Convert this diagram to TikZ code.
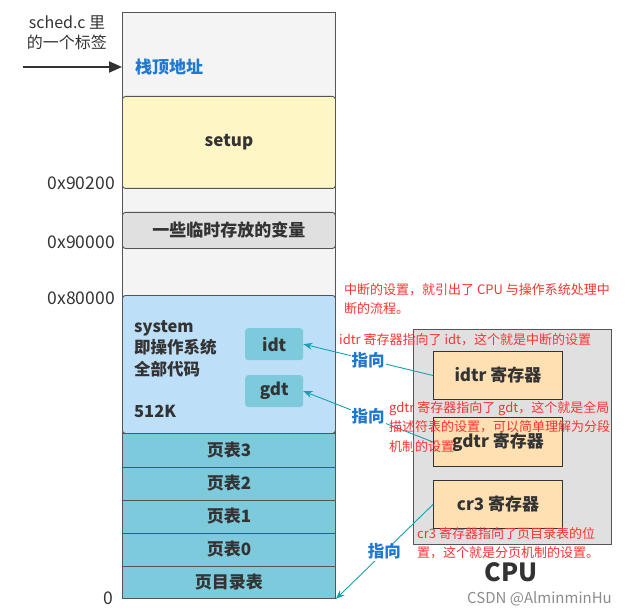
\documentclass[tikz,border=0pt]{standalone}
\usepackage{fontspec}
\setmainfont{Noto Sans CJK SC}
\usetikzlibrary{arrows.meta}
\definecolor{stackbg}{HTML}{F4F4F4}
\definecolor{setupc}{HTML}{FFF6C6}
\definecolor{tempc}{HTML}{E0E0E0}
\definecolor{sysc}{HTML}{BEDFF8}
\definecolor{ptc}{HTML}{7ECADD}
\definecolor{cpuc}{HTML}{E0E0E0}
\definecolor{regc}{HTML}{FFE0B2}
\definecolor{redc}{HTML}{FF3333}
\definecolor{bluec}{HTML}{1F78D1}
\definecolor{tealc}{HTML}{1A9FB3}
\definecolor{edgec}{HTML}{555555}
\definecolor{txtc}{HTML}{333333}
\tikzset{
  memblk/.style={draw=edgec, line width=0.9pt, rounded corners=3pt, font=\fontsize{17}{20}\selectfont\bfseries, text=txtc},
  ptrow/.style={draw=edgec, line width=0.9pt, fill=ptc, font=\fontsize{17}{20}\selectfont\bfseries, text=txtc},
  tabbox/.style={fill=ptc, rounded corners=3pt, font=\fontsize{17}{20}\selectfont\bfseries, text=txtc},
  regbox/.style={draw=txtc, line width=1pt, fill=regc, font=\fontsize{17}{20}\selectfont\bfseries, text=txtc},
  addr/.style={font=\fontsize{17.5}{20}\selectfont, text=txtc, anchor=east, inner sep=0pt},
  redtxt/.style={font=\fontsize{13}{19.5}\selectfont, text=redc, align=left, anchor=north west, inner sep=0pt},
  pointlbl/.style={font=\fontsize{16.5}{19}\selectfont\bfseries, text=bluec, fill=white, inner sep=1pt},
  tealarrow/.style={draw=tealc, line width=0.9pt, -{Stealth[length=9pt,width=7pt]}},
}
\begin{document}
\begin{tikzpicture}[x=1pt,y=-1pt]
\useasboundingbox (0,0) rectangle (627,615);
% stack column background
\node[draw=edgec, line width=0.9pt, fill=stackbg, minimum width=213pt, minimum height=586pt, anchor=north west, inner sep=0pt] (col) at (122,12) {};
% setup
\node[memblk, fill=setupc, minimum width=213pt, minimum height=92pt, anchor=north west, inner sep=0pt] (setup) at (122,96) {setup};
% temp vars
\node[memblk, fill=tempc, minimum width=213pt, minimum height=36pt, anchor=north west, inner sep=0pt] (temp) at (122,212) {一些临时存放的变量};
% system
\node[memblk, fill=sysc, minimum width=213pt, minimum height=138pt, anchor=north west, inner sep=0pt] (sys) at (122,295) {};
\node[font=\fontsize{16.5}{21.5}\selectfont\bfseries, text=txtc, align=left, anchor=north west, inner sep=0pt] (systxt) at (134,320) {system\\即操作系统\\全部代码\\[0.95\baselineskip]512K};
\node[tabbox, minimum width=58pt, minimum height=32pt, anchor=north west, inner sep=0pt] (idt) at (245,328) {idt};
\node[tabbox, minimum width=58pt, minimum height=32pt, anchor=north west, inner sep=0pt] (gdt) at (245,375) {gdt};
% page tables
\node[ptrow, minimum width=213pt, minimum height=33.5pt, anchor=north west, inner sep=0pt] (pt3) at (122,433) {页表3};
\node[ptrow, minimum width=213pt, minimum height=33pt, anchor=north west, inner sep=0pt] (pt2) at (122,466.5) {页表2};
\node[ptrow, minimum width=213pt, minimum height=33pt, anchor=north west, inner sep=0pt] (pt1) at (122,499.5) {页表1};
\node[ptrow, minimum width=213pt, minimum height=33pt, anchor=north west, inner sep=0pt] (pt0) at (122,532.5) {页表0};
\node[ptrow, minimum width=213pt, minimum height=32.5pt, anchor=north west, inner sep=0pt] (pdir) at (122,565.5) {页目录表};
% addresses
\node[addr] (a1) at (115,183) {0x90200};
\node[addr] (a2) at (115,242) {0x90000};
\node[addr] (a3) at (115,298) {0x80000};
\node[addr] (a4) at (113,598) {0};
% stack label
\node[font=\fontsize{16}{20}\selectfont, text=txtc, align=center, inner sep=0pt] (sched) at (67,33) {sched.c 里\\的一个标签};
\coordinate (sp) at (23,67);
\draw[line width=2pt, draw=txtc, -{Triangle[length=13pt,width=11pt]}] (sp) -- (col.west |- sp);
\node[font=\fontsize{17}{19}\selectfont\bfseries, text=bluec, anchor=west, inner sep=0pt] (top) at (135,67) {栈顶地址};
% CPU
\node[draw=edgec, line width=1pt, fill=cpuc, minimum width=198pt, minimum height=215pt, anchor=north west, inner sep=0pt] (cpu) at (413,329) {};
\node[regbox, minimum width=129pt, minimum height=48pt, anchor=north west, inner sep=0pt] (idtr) at (433,351) {idtr 寄存器};
\node[regbox, minimum width=129pt, minimum height=49pt, anchor=north west, inner sep=0pt] (gdtr) at (433,417) {gdtr 寄存器};
\node[regbox, minimum width=129pt, minimum height=48pt, anchor=north west, inner sep=0pt] (cr3) at (433,480) {cr3 寄存器};
\node[font=\fontsize{25}{28}\selectfont\bfseries, text=txtc, inner sep=0pt] (cputxt) at (511,572) {CPU};
% arrows
\draw[tealarrow] (idtr.west) -- node[pointlbl, pos=0.5] {指向} (idt.east);
\draw[tealarrow] (gdtr.west) -- node[pointlbl, pos=0.5] {指向} (gdt.east);
\draw[tealarrow] (cr3.west) -- node[pointlbl, pos=0.5] {指向} (pdir.south east);
% red notes
\node[redtxt] (n1) at (344,283) {中断的设置，就引出了 CPU 与操作系统处理中\\断的流程。};
\node[redtxt] (n2) at (339,333) {idtr 寄存器指向了 idt，这个就是中断的设置};
\node[redtxt] (n3) at (389,401) {gdtr 寄存器指向了 gdt，这个就是全局\\描述符表的设置，可以简单理解为分段\\机制的设置};
\node[redtxt] (n4) at (417,527) {cr3 寄存器指向了页目录表的位\\置，这个就是分页机制的设置。};
% watermark
\node[font=\fontsize{15}{17}\selectfont, text=black!45, anchor=east, inner sep=0pt] (wm) at (612,599) {CSDN @AlminminHu};
\end{tikzpicture}
\end{document}
